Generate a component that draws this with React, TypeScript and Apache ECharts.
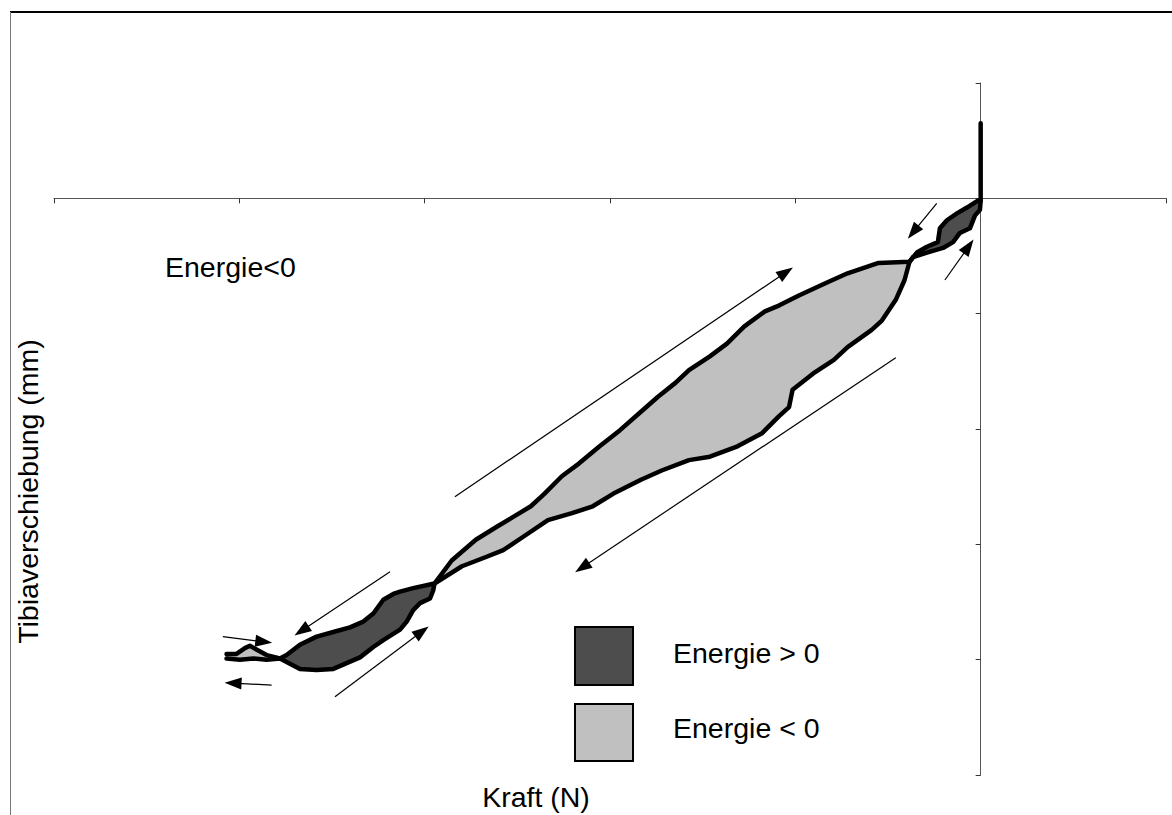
import React, { useEffect, useRef } from "react";
import * as echarts from "echarts";

// Axis ranges (Kraft in N, Tibiaverschiebung in mm) — no tick labels shown in the reference
const X_MIN = -500;
const X_MAX = 100;
const X_STEP = 100;
const Y_MIN = -5;
const Y_MAX = 1;
const Y_STEP = 1;

// Vertical start spike at zero force
const spike: number[][] = [[0, 0.65], [0, 0.3], [0, -0.02]];

// Small top-right loop (Energie > 0)
const trUpper: number[][] = [
  [-1.5, -0.02], [-7.4, -0.08], [-12.8, -0.13], [-18.2, -0.19], [-22.0, -0.26],
  [-23.1, -0.38], [-29.0, -0.42], [-34.4, -0.47], [-38.4, -0.55],
];
const trLower: number[][] = [
  [0, -0.02], [-0.4, -0.1], [-3.1, -0.15], [-5.8, -0.26], [-11.2, -0.3], [-14.9, -0.38],
  [-20.3, -0.43], [-29.0, -0.47], [-36.5, -0.51], [-38.4, -0.55],
];

// Large middle loop (Energie < 0)
const bigUpper: number[][] = [
  [-38.4, -0.55], [-55.1, -0.56], [-71.8, -0.65], [-82.9, -0.73], [-97.8, -0.84],
  [-108.9, -0.93], [-116.4, -0.98], [-127.5, -1.11], [-136.9, -1.26], [-146.1, -1.37],
  [-157.4, -1.49], [-164.7, -1.6], [-174.1, -1.72], [-183.3, -1.85], [-194.6, -2.01],
  [-205.6, -2.15], [-216.8, -2.3], [-226.0, -2.41], [-235.3, -2.56], [-242.7, -2.67],
  [-252.0, -2.76], [-261.3, -2.85], [-272.4, -2.96], [-285.4, -3.14], [-294.7, -3.34],
];
const bigLower: number[][] = [
  [-38.4, -0.55], [-41.1, -0.71], [-45.8, -0.88], [-53.3, -1.06], [-58.8, -1.14],
  [-71.8, -1.29], [-79.2, -1.4], [-90.5, -1.52], [-101.5, -1.66], [-103.4, -1.81],
  [-108.9, -1.89], [-118.2, -2.04], [-131.2, -2.15], [-146.1, -2.24], [-157.4, -2.27],
  [-172.1, -2.36], [-183.3, -2.44], [-198.1, -2.56], [-209.3, -2.67], [-220.5, -2.73],
  [-233.5, -2.79], [-246.4, -2.93], [-257.6, -3.05], [-266.9, -3.11], [-279.9, -3.19],
  [-294.7, -3.34],
];

// Bottom-left loop (Energie > 0)
const blUpper: number[][] = [
  [-294.7, -3.34], [-306.2, -3.38], [-313.3, -3.41], [-316.9, -3.43], [-322.3, -3.48],
  [-327.7, -3.6], [-333.1, -3.67], [-340.3, -3.72], [-349.3, -3.76], [-358.3, -3.8],
  [-367.3, -3.87], [-374.5, -3.96], [-378.1, -3.99],
];
const blLower: number[][] = [
  [-294.7, -3.34], [-295.4, -3.4], [-297.1, -3.47], [-302.5, -3.51], [-306.2, -3.57],
  [-309.7, -3.67], [-313.3, -3.74], [-322.3, -3.83], [-327.7, -3.89], [-334.9, -3.98],
  [-342.1, -4.03], [-349.3, -4.08], [-358.3, -4.09], [-367.3, -4.08], [-374.5, -4.02],
  [-378.1, -3.99],
];

// Tail at the far left
const tailUpper: number[][] = [
  [-378.1, -3.99], [-385.3, -3.96], [-389.8, -3.92], [-394.3, -3.88], [-397.0, -3.9],
  [-401.5, -3.95], [-406.9, -3.95],
];
const tailLower: number[][] = [
  [-378.1, -3.99], [-385.3, -4.0], [-392.5, -3.99], [-399.7, -4.0], [-406.9, -3.99],
];

// Direction arrows: [fromX, fromY, arrowHeadX, arrowHeadY]
const arrows: number[][] = [
  [-283.7, -2.587, -105.1, -0.641],
  [-45.8, -1.382, -215.0, -3.2],
  [-23.7, -0.043, -36.4, -0.293],
  [-19.3, -0.708, -6.5, -0.418],
  [-318.7, -3.238, -366.4, -3.749],
  [-348.4, -4.322, -301.5, -3.756],
  [-408.9, -3.801, -386.8, -3.845],
  [-382.6, -4.22, -403.4, -4.204],
];

const DARK = "#4d4d4d";
const LIGHT = "#c0c0c0";
const FONT = '"Liberation Sans", Arial, Helvetica, sans-serif';
const FS = 28.5;

const rev = (a: number[][]) => a.slice().reverse();

export default function App() {
  const ref = useRef<HTMLDivElement>(null);

  useEffect(() => {
    if (!ref.current) return;
    const chart = echarts.init(ref.current, null, { renderer: "svg" });

    const poly = (pts: number[][], fill: string, z: number) => ({
      type: "custom",
      coordinateSystem: "cartesian2d",
      z,
      silent: true,
      clip: false,
      data: [pts[0]],
      renderItem: (_params: any, api: any) => ({
        type: "polygon",
        shape: { points: pts.map((p) => api.coord(p)) },
        style: { fill, stroke: fill, lineWidth: 0.5 },
      }),
    });

    const upperPath = [...spike, ...trUpper, ...bigUpper.slice(1), ...blUpper.slice(1), ...tailUpper.slice(1)];
    const lowerPath = [...trLower, ...bigLower.slice(1), ...blLower.slice(1), ...tailLower.slice(1)];

    const outline = (data: number[][], extra: any = {}) => ({
      type: "line",
      data,
      showSymbol: false,
      symbol: "none",
      silent: true,
      z: 5,
      lineStyle: { color: "#000", width: 4.5, join: "round", cap: "round" },
      ...extra,
    });

    const txt = (text: string, x: number, y: number, align: string, extra: any = {}) => ({
      type: "text",
      x,
      y,
      z: 10,
      ...extra,
      style: {
        text,
        fill: "#000",
        fontSize: FS,
        fontFamily: FONT,
        align,
        verticalAlign: "middle",
        textAlign: align,
        textVerticalAlign: "middle",
      },
    });

    chart.setOption({
      animation: false,
      backgroundColor: "#fff",
      grid: { left: 54, right: 6, top: 83, bottom: 40, containLabel: false },
      xAxis: {
        type: "value",
        min: X_MIN,
        max: X_MAX,
        interval: X_STEP,
        axisLine: { onZero: true, lineStyle: { color: "#555", width: 1 } },
        axisTick: { show: true, length: 5, lineStyle: { color: "#333", width: 1 } },
        axisLabel: { show: false },
        splitLine: { show: false },
      },
      yAxis: {
        type: "value",
        min: Y_MIN,
        max: Y_MAX,
        interval: Y_STEP,
        axisLine: { onZero: true, lineStyle: { color: "#555", width: 1 } },
        axisTick: { show: true, length: 5, lineStyle: { color: "#333", width: 1 } },
        axisLabel: { show: false },
        splitLine: { show: false },
      },
      series: [
        poly([...trUpper, ...rev(trLower)], DARK, 2),
        poly([...bigUpper, ...rev(bigLower)], LIGHT, 2),
        poly([...blUpper, ...rev(blLower)], DARK, 2),
        poly([...tailUpper, ...rev(tailLower)], LIGHT, 2),
        outline(upperPath, {
          markLine: {
            silent: true,
            animation: false,
            symbol: ["none", "triangle"],
            symbolSize: [12, 17],
            lineStyle: { color: "#000", width: 1.2, type: "solid" },
            label: { show: false },
            emphasis: { disabled: true },
            data: arrows.map((a) => [{ coord: [a[0], a[1]] }, { coord: [a[2], a[3]] }]),
          },
        }),
        outline(lowerPath),
      ],
      graphic: [
        { type: "line", shape: { x1: 10, y1: 12, x2: 1172, y2: 12 }, style: { stroke: "#000", lineWidth: 2 } },
        { type: "line", shape: { x1: 10.5, y1: 12, x2: 10.5, y2: 815 }, style: { stroke: "#777", lineWidth: 1 } },
        txt("Energie<0", 165, 267, "left"),
        txt("Kraft (N)", 536, 797, "center"),
        txt("Tibiaverschiebung (mm)", 27.5, 491.5, "center", { rotation: Math.PI / 2 }),
        { type: "rect", shape: { x: 575, y: 627, width: 58, height: 58 }, style: { fill: DARK, stroke: "#000", lineWidth: 2 } },
        { type: "rect", shape: { x: 575, y: 704, width: 58, height: 57 }, style: { fill: LIGHT, stroke: "#000", lineWidth: 2 } },
        txt("Energie > 0", 673, 653, "left"),
        txt("Energie < 0", 673, 728, "left"),
      ],
    });

    return () => chart.dispose();
  }, []);

  return (
    <div
      ref={ref}
      style={{ position: "absolute", left: 0, top: 0, width: 1172, height: 815 }}
    />
  );
}
